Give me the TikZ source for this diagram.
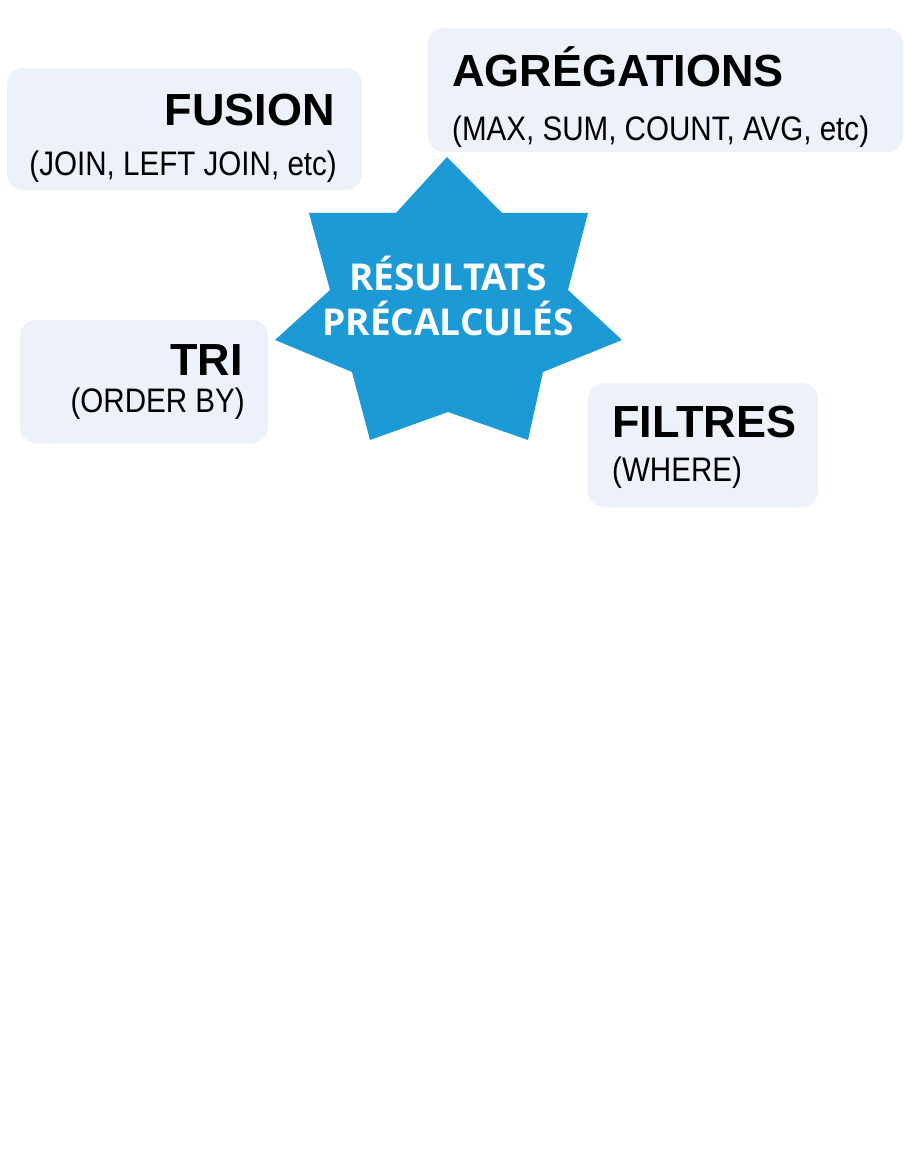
\documentclass[tikz,border=0pt]{standalone}
\usepackage{fontspec}
\setmainfont{Liberation Sans}
\newfontfamily\subfont[FakeStretch=0.87]{Liberation Sans}
\newfontfamily\starfont{Open Sans}
\usetikzlibrary{positioning}
\definecolor{panelfill}{RGB}{236,241,250}
\definecolor{starblue}{RGB}{27,154,214}
\tikzstyle{panel}=[fill=panelfill, rounded corners=16pt, inner sep=0pt]
\tikzstyle{title}=[inner sep=0pt, font=\bfseries\fontsize{45}{54}\selectfont]
\tikzstyle{sub}=[inner sep=0pt, font=\subfont\fontsize{34}{40}\selectfont]
\tikzstyle{startext}=[inner sep=0pt, text=white, font=\starfont\bfseries\fontsize{37}{45}\selectfont]

\begin{document}
\begin{tikzpicture}[x=1pt,y=-1pt]
      \useasboundingbox (0,0) rectangle (908,1166);
      % panels
      \node [panel, minimum width=355pt, minimum height=122pt] (fusion) at (184.5,129) {};
      \node [panel, minimum width=475pt, minimum height=124pt] (agg) at (665.5,90) {};
      \node [panel, minimum width=248pt, minimum height=123pt] (tri) at (144,381.5) {};
      \node [panel, minimum width=230pt, minimum height=124pt] (filtres) at (703,445) {};

      \node [title, anchor=base east] (fusiont) at (335,126) {FUSION};
      \node [sub, anchor=base east] (fusions) at (337,176) {(JOIN, LEFT JOIN, etc)};
      \node [title, anchor=base west] (aggt) at (452,87) {AGRÉGATIONS};
      \node [sub, anchor=base west] (aggs) at (452,141) {(MAX, SUM, COUNT, AVG, etc)};
      \node [title, anchor=base east] (trit) at (243,375) {TRI};
      \node [sub, anchor=base east] (tris) at (245,412) {(ORDER BY)};
      \node [title, anchor=base west] (filtrest) at (612,437) {FILTRES};
      \node [sub, anchor=base west] (filtress) at (612,481) {(WHERE)};

      % star
      \fill [starblue] (447,157) -- (502,213) -- (588,213) -- (568,290) -- (622,340)
            -- (543,372) -- (528,440) -- (448,412) -- (370,440) -- (352,372)
            -- (275,340) -- (330,290) -- (309,213) -- (396,213) -- cycle;
      \node [startext, anchor=base] (resultats) at (448,290) {RÉSULTATS};
      \node [startext, anchor=base] (precalc) at (448,335) {PRÉCALCULÉS};
\end{tikzpicture}
\end{document}
